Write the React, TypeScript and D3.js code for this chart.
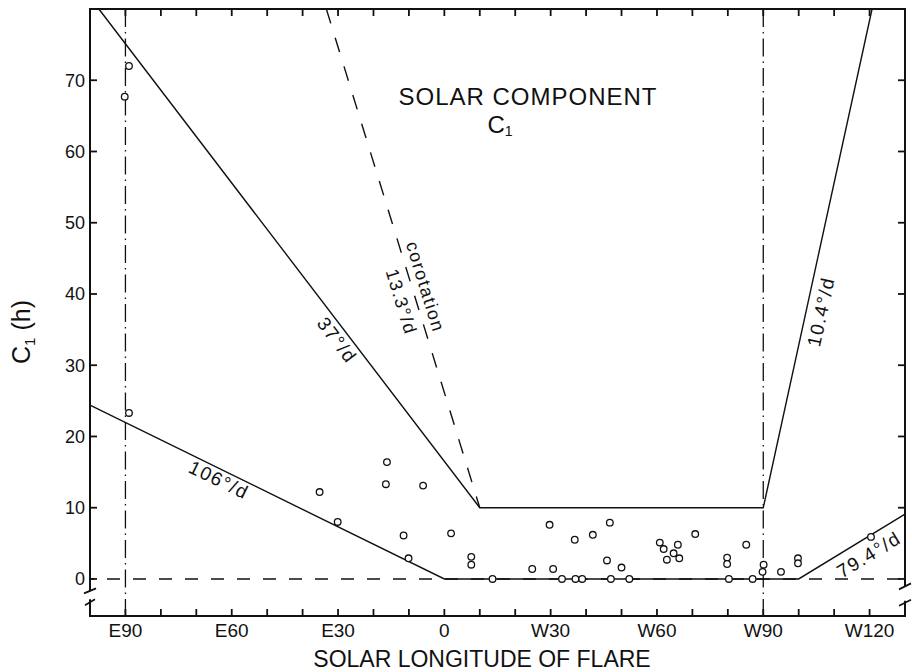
import React from "react";
import * as d3 from "d3";

const W = 912;
const H = 672;

// Flare longitude (negative = east, positive = west) and solar component C1 (hours)
const flareLongitude = [
  -89.0, -90.2, -89.0, -35.2, -30.1, -16.2, -16.5, -11.5, -10.1, -6.0,
  1.9, 7.6, 7.6, 13.6, 24.8, 29.7, 30.7, 33.2, 36.8, 37.0,
  38.9, 41.9, 45.9, 46.7, 47.0, 50.0, 52.2, 60.8, 61.9, 62.8,
  64.7, 65.9, 66.3, 70.8, 79.8, 79.8, 80.3, 85.2, 87.0, 89.8,
  90.1, 95.0, 99.8, 99.8, 120.4,
];
const solarComponentC1 = [
  72.0, 67.7, 23.3, 12.2, 8.0, 16.4, 13.3, 6.1, 2.9, 13.1,
  6.4, 3.1, 2.0, 0, 1.4, 7.6, 1.4, 0, 5.5, 0,
  0, 6.2, 2.6, 7.9, 0, 1.6, 0, 5.1, 4.2, 2.7,
  3.6, 4.8, 2.9, 6.3, 3.0, 2.1, 0, 4.8, 0, 1.0,
  2.0, 1.0, 2.9, 2.2, 5.9,
];

// Envelope curves
const upperEnvelopeLon = [-97.5, 10, 90, 120.7];
const upperEnvelopeC1 = [80, 10, 10, 80];
const lowerEnvelopeLon = [-100, 0, 100, 130];
const lowerEnvelopeC1 = [24.4, 0, 0, 9.1];
const corotationLon = [-33.3, 10];
const corotationC1 = [80, 10];
const limbLongitudes = [-90, 90];

// Axis ticks
const xTickValues = [-90, -60, -30, 0, 30, 60, 90, 120];
const xTickLabels = ["E90", "E60", "E30", "0", "W30", "W60", "W90", "W120"];
const xMinorTicks = [-90, -80, -70, -60, -50, -40, -30, -20, -10, 0, 10, 20, 30, 40, 50, 60, 70, 80, 90, 100, 110, 120];
const yTickValues = [0, 10, 20, 30, 40, 50, 60, 70];
const yTickLabels = ["0", "10", "20", "30", "40", "50", "60", "70"];

const FONT = "'Liberation Sans', Arial, sans-serif";
const INK = "#111";

export default function App() {
  const x = d3.scaleLinear().domain([-100, 130]).range([90, 905]);
  const y = d3.scaleLinear().domain([-5.2, 80]).range([616, 9]);

  const [xMin, xMax] = x.domain();
  const [yBottom, yTop] = y.domain();
  const left = x(xMin);
  const right = x(xMax);
  const top = y(yTop);
  const bottom = y(yBottom);

  const line = d3
    .line<[number, number]>()
    .x((d) => x(d[0]))
    .y((d) => y(d[1]));

  const zip = (a: number[], b: number[]) => a.map((v, i) => [v, b[i]] as [number, number]);
  const upper = zip(upperEnvelopeLon, upperEnvelopeC1);
  const lower = zip(lowerEnvelopeLon, lowerEnvelopeC1);
  const corot = zip(corotationLon, corotationC1);
  const points = zip(flareLongitude, solarComponentC1);

  // rotation (deg) of a segment in screen space
  const angleOf = (a: [number, number], b: [number, number]) =>
    (Math.atan2(y(b[1]) - y(a[1]), x(b[0]) - x(a[0])) * 180) / Math.PI;

  const slopeLabels = [
    { text: "106°/d", lon: -63.6, c1: 13.9, angle: angleOf(lower[0], lower[1]), size: 19 },
    { text: "37°/d", lon: -30.3, c1: 33.5, angle: angleOf(upper[0], upper[1]), size: 19 },
    { text: "corotation", lon: -5.4, c1: 41.0, angle: angleOf(corot[0], corot[1]), size: 18 },
    { text: "13.3°/d", lon: -12.2, c1: 38.9, angle: angleOf(corot[0], corot[1]), size: 18 },
    { text: "10.4°/d", lon: 106.3, c1: 37.5, angle: angleOf(upper[2], upper[3]), size: 19 },
    { text: "79.4°/d", lon: 119.8, c1: 3.4, angle: angleOf(lower[2], lower[3]), size: 19 },
  ];

  const y0 = y(0);
  const leftBreakTop = y(-1.6);
  const leftBreakBottom = y(-3.0);
  const rightBreakTop = y(-0.9);
  const rightBreakBottom = y(-3.2);

  return (
    <svg
      width={W}
      height={H}
      viewBox={`0 0 ${W} ${H}`}
      style={{ display: "block", position: "absolute", left: 0, top: 0, background: "#fff" }}
    >
      <rect width={W} height={H} fill="#fff" />

      {/* zero reference */}
      <line x1={left} x2={right} y1={y0} y2={y0} stroke={INK} strokeWidth={1.4} strokeDasharray="13 13" strokeDashoffset={-17} />

      {/* limb meridians */}
      {limbLongitudes.map((lon) => (
        <line key={lon} x1={x(lon)} x2={x(lon)} y1={top} y2={bottom} stroke={INK} strokeWidth={1.3} strokeDasharray="18 5 1.5 5" />
      ))}

      {/* envelopes */}
      <path d={line(upper) ?? ""} fill="none" stroke={INK} strokeWidth={1.4} />
      <path d={line(lower) ?? ""} fill="none" stroke={INK} strokeWidth={1.4} />
      <path d={line(corot) ?? ""} fill="none" stroke={INK} strokeWidth={1.4} strokeDasharray="15 15" />

      {/* frame */}
      <g stroke={INK} strokeWidth={2} fill="none" strokeLinecap="square">
        <line x1={left} x2={right} y1={top} y2={top} />
        <line x1={left} x2={right} y1={bottom} y2={bottom} />
        <line x1={left} x2={left} y1={top} y2={leftBreakTop} />
        <line x1={left} x2={left} y1={leftBreakBottom} y2={bottom} />
        <line x1={right} x2={right} y1={top} y2={rightBreakTop} />
        <line x1={right} x2={right} y1={rightBreakBottom} y2={bottom} />
      </g>
      <g stroke={INK} strokeWidth={1.8} fill="none">
        <line x1={left - 6} x2={left + 6} y1={leftBreakTop + 3} y2={leftBreakTop - 2} />
        <line x1={left - 5} x2={left + 5} y1={leftBreakBottom + 5} y2={leftBreakBottom - 1} />
        <line x1={right - 6} x2={right + 6} y1={rightBreakTop + 4} y2={rightBreakTop - 2} />
        <line x1={right - 6} x2={right + 6} y1={rightBreakBottom + 4} y2={rightBreakBottom - 2} />
      </g>

      {/* ticks */}
      <g stroke={INK} strokeWidth={1.8}>
        {xMinorTicks.map((v) => (
          <g key={v}>
            <line x1={x(v)} x2={x(v)} y1={bottom} y2={bottom - 7} />
            <line x1={x(v)} x2={x(v)} y1={top} y2={top + 7} />
          </g>
        ))}
        {yTickValues.map((v) => (
          <g key={v}>
            <line x1={left} x2={left + 7} y1={y(v)} y2={y(v)} />
            <line x1={right} x2={right - 7} y1={y(v)} y2={y(v)} />
          </g>
        ))}
      </g>

      {/* tick labels */}
      <g fontFamily={FONT} fill={INK}>
        {yTickValues.map((v, i) => (
          <text key={v} x={left - 5} y={y(v)} dy="0.36em" textAnchor="end" fontSize={18}>
            {yTickLabels[i]}
          </text>
        ))}
        {xTickValues.map((v, i) => (
          <text key={v} x={x(v)} y={bottom + 21} textAnchor="middle" fontSize={19}>
            {xTickLabels[i]}
          </text>
        ))}
      </g>

      {/* axis titles */}
      <text x={482} y={667} textAnchor="middle" fontFamily={FONT} fontSize={23} fill={INK}>
        SOLAR LONGITUDE OF FLARE
      </text>
      <text transform="translate(30, 332) rotate(-90)" textAnchor="middle" fontFamily={FONT} fontSize={25} fill={INK}>
        C<tspan fontSize={15} dy={5}>1</tspan>
        <tspan dy={-5}> (h)</tspan>
      </text>

      {/* chart title */}
      <text x={528} y={105} textAnchor="middle" fontFamily={FONT} fontSize={24} letterSpacing={1} fill={INK}>
        SOLAR COMPONENT
      </text>
      <text x={500} y={133} textAnchor="middle" fontFamily={FONT} fontSize={24} fill={INK}>
        C<tspan fontSize={14} dy={3}>1</tspan>
      </text>

      {/* slope annotations */}
      {slopeLabels.map((l) => (
        <text
          key={l.text}
          transform={`translate(${x(l.lon)}, ${y(l.c1)}) rotate(${l.angle})`}
          textAnchor="middle"
          dominantBaseline="central"
          fontFamily={FONT}
          fontSize={l.size}
          letterSpacing={1.5}
          fill={INK}
        >
          {l.text}
        </text>
      ))}

      {/* flares */}
      {points.map((p, i) => (
        <circle key={i} cx={x(p[0])} cy={y(p[1])} r={3.3} fill="#fff" stroke={INK} strokeWidth={1.3} />
      ))}
    </svg>
  );
}
